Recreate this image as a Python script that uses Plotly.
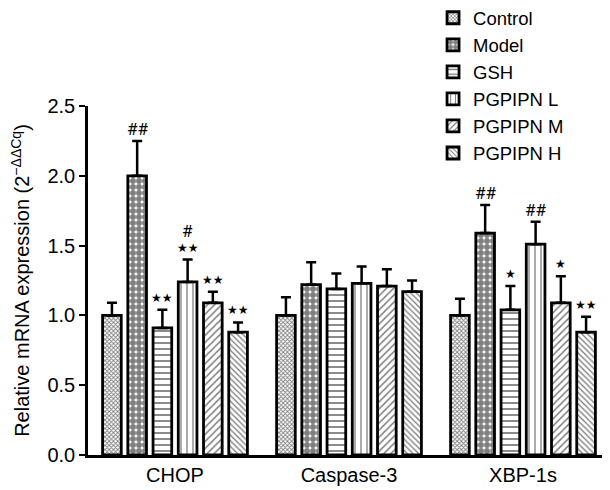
import plotly.graph_objects as go

categories = ["CHOP", "Caspase-3", "XBP-1s"]
groups = ["Control", "Model", "GSH", "PGPIPN L", "PGPIPN M", "PGPIPN H"]

control = [1.00, 1.00, 1.00]
model = [2.00, 1.22, 1.59]
gsh = [0.91, 1.19, 1.04]
pg_l = [1.24, 1.23, 1.51]
pg_m = [1.09, 1.21, 1.09]
pg_h = [0.88, 1.17, 0.88]

control_err = [0.09, 0.13, 0.12]
model_err = [0.25, 0.16, 0.20]
gsh_err = [0.13, 0.11, 0.17]
pg_l_err = [0.16, 0.12, 0.16]
pg_m_err = [0.08, 0.12, 0.19]
pg_h_err = [0.07, 0.08, 0.11]

# significance labels per group: (stars vs model, hashes vs control)
sig_labels = {
    "Control": [("", ""), ("", ""), ("", "")],
    "Model": [("", "##"), ("", ""), ("", "##")],
    "GSH": [("★★", ""), ("", ""), ("★", "")],
    "PGPIPN L": [("★★", "#"), ("", ""), ("", "##")],
    "PGPIPN M": [("★★", ""), ("", ""), ("★", "")],
    "PGPIPN H": [("★★", ""), ("", ""), ("★★", "")],
}

values = [control, model, gsh, pg_l, pg_m, pg_h]
errors = [control_err, model_err, gsh_err, pg_l_err, pg_m_err, pg_h_err]

patterns = [
    dict(shape="x", size=3, solidity=0.5),
    dict(shape=".", size=6, solidity=0.75),
    dict(shape="-", size=6, solidity=0.3),
    dict(shape="|", size=6, solidity=0.22),
    dict(shape="/", size=5, solidity=0.3),
    dict(shape="\\", size=4, solidity=0.33),
]

bargap = 0.13
xs = list(range(len(categories)))

fig = go.Figure()
for i, (name, vals, errs, pat) in enumerate(zip(groups, values, errors, patterns)):
    fig.add_trace(go.Bar(
        x=xs, y=vals, name=name, legendgroup=name,
        marker=dict(color="white", line=dict(color="black", width=2.8),
                    pattern=dict(fgcolor="black", bgcolor="white", fillmode="overlay", **pat)),
        error_y=dict(type="data", array=errs, arrayminus=[0] * len(errs), symmetric=False,
                     color="black", thickness=2.5, width=5),
    ))

# annotations
slot = (1 - bargap) / len(groups)
annotations = []
for i, (name, vals, errs) in enumerate(zip(groups, values, errors)):
    for j in range(len(categories)):
        low, high = sig_labels[name][j]
        xpos = j + (i - (len(groups) - 1) / 2) * slot
        top = vals[j] + errs[j]
        shift = 12
        if low:
            annotations.append(dict(x=xpos, y=top, xref="x", yref="y", text=low, showarrow=False,
                                    yanchor="middle", yshift=shift,
                                    font=dict(size=12, color="#000000", family="DejaVu Sans")))
            shift += 17
        if high:
            annotations.append(dict(x=xpos, y=top, xref="x", yref="y", text=high, showarrow=False,
                                    yanchor="middle", yshift=shift,
                                    font=dict(size=17, color="#000000", family="Roboto")))

fig.update_layout(
    width=602, height=482,
    margin=dict(l=80, r=0, t=98, b=35, autoexpand=False),
    plot_bgcolor="white", paper_bgcolor="white",
    barmode="group", bargap=bargap, bargroupgap=0.26,
    font=dict(family="Liberation Sans, Arial", size=20, color="black"),
    showlegend=True,
    legend=dict(x=0.661, y=1.306, xanchor="left", yanchor="top",
                font=dict(size=18.5), tracegroupgap=0, traceorder="normal",
                bgcolor="rgba(0,0,0,0)"),
    annotations=annotations,
    xaxis=dict(range=[-0.5, 2.5], tickvals=xs, ticktext=categories, showline=True,
               linecolor="black", linewidth=2.5, ticks="", showgrid=False, zeroline=False,
               tickfont=dict(size=20)),
    yaxis=dict(range=[0, 2.5], tickvals=[0, 0.5, 1.0, 1.5, 2.0, 2.5],
               ticktext=["0.0", "0.5", "1.0", "1.5", "2.0", "2.5"],
               showline=True, linecolor="black", linewidth=2.5, ticks="outside",
               ticklen=6, tickwidth=2, tickcolor="black", showgrid=False, zeroline=False,
               tickfont=dict(size=20),
               title=dict(text="Relative mRNA expression (2<sup>−ΔΔCq</sup>)",
                          font=dict(size=20), standoff=16)),
)

fig.write_html("out.html")
